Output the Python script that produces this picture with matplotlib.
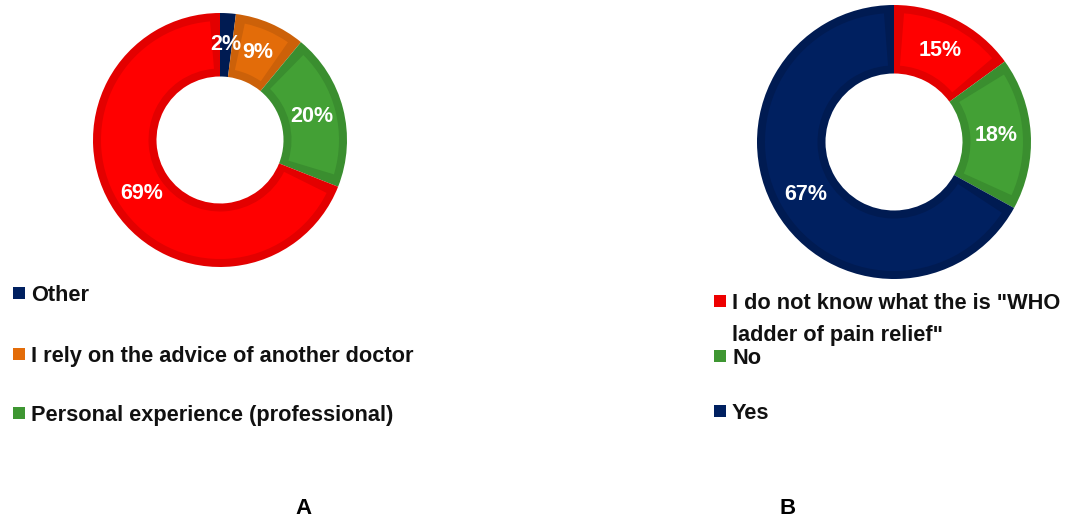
import matplotlib
matplotlib.use("Agg")
import matplotlib.pyplot as plt
import numpy as np
from matplotlib.patches import Rectangle, Wedge

plt.rcParams['font.family'] = ['Liberation Sans', 'DejaVu Sans']

W, H = 1077, 520
DPI = 100

# panel A: source of knowledge on pain treatment
shares_a = [2, 9, 20, 69]
colors_a = ["#002060", "#E36C09", "#43A035", "#FF0000"]
edges_a = ["#001B52", "#CC6109", "#3A8E2F", "#E30000"]
legend_a = ["Other", "I rely on the advice of another doctor", "Personal experience (professional)"]
legend_a_colors = ["#002060", "#E36C09", "#3E9632"]

# panel B: WHO ladder of pain relief
shares_b = [15, 18, 67]
colors_b = ["#FF0000", "#43A035", "#002060"]
edges_b = ["#E30000", "#3A8E2F", "#001B52"]
legend_b = ['I do not know what the is "WHO\nladder of pain relief"', "No", "Yes"]
legend_b_colors = ["#EE0000", "#3E9632", "#002060"]

fig = plt.figure(figsize=(W / DPI, H / DPI), dpi=DPI)


def px(x, y):
    return x / W, 1 - y / H


def donut(cx, cy, r, vals, cols, edges, rim=8):
    ax = fig.add_axes([(cx - r) / W, (H - cy - r) / H, 2 * r / W, 2 * r / H])
    # outer layer in the darker rim colour
    wedges, texts, autotexts = ax.pie(vals, colors=edges, startangle=90, counterclock=False,
                                      autopct='%.0f%%', pctdistance=0.75, radius=1,
                                      wedgeprops=dict(width=0.5, linewidth=0))
    d = rim / r
    dth = np.degrees(d / 0.75)
    for w, c in zip(wedges, cols):
        t1, t2 = w.theta1 + dth, w.theta2 - dth
        if t2 - t1 <= 0:
            continue
        ax.add_patch(Wedge(w.center, w.r - d, t1, t2, width=w.width - 2 * d,
                           facecolor=c, linewidth=0, zorder=w.get_zorder() + 0.1))
    for t in autotexts:
        t.set_color("white")
        t.set_fontsize(15.5)
        t.set_fontweight("bold")
        t.set_zorder(5)
    ax.set_xlim(-1, 1)
    ax.set_ylim(-1, 1)
    ax.axis("off")
    return ax


donut(220, 140, 127, shares_a, colors_a, edges_a)
donut(894, 142, 137, shares_b, colors_b, edges_b)

FS = 15.7


def legend_item(x, y, label, color, sq=12):
    fig.patches.append(Rectangle(px(x - sq / 2, y + sq / 2), sq / W, sq / H,
                                 transform=fig.transFigure, facecolor=color, edgecolor="none"))
    fig.text(*px(x + 12, y + 7.7), label, fontsize=FS, fontweight="bold",
             color="#111111", va="baseline", ha="left")


for y, lab, c in zip([293, 354, 413], legend_a, legend_a_colors):
    legend_item(19, y, lab, c)

line1, line2 = legend_b[0].split("\n")
legend_item(720, 301, line1, legend_b_colors[0])
fig.text(*px(732, 333 + 7.7), line2, fontsize=FS, fontweight="bold",
         color="#111111", va="baseline", ha="left")
for y, lab, c in zip([356, 411], legend_b[1:], legend_b_colors[1:]):
    legend_item(720, y, lab, c)

fig.text(*px(303, 508), "A", fontsize=16, fontweight="bold", ha="center", va="center")
fig.text(*px(788, 508), "B", fontsize=16, fontweight="bold", ha="center", va="center")

fig.savefig("out.png", dpi=DPI)
